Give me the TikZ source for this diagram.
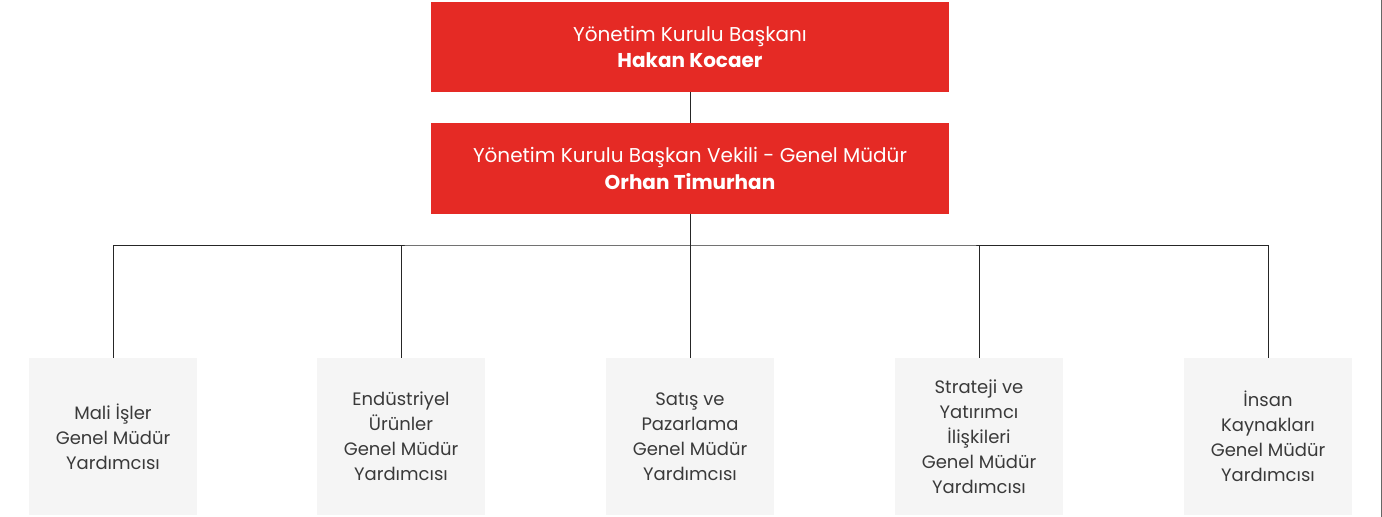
\documentclass[tikz,border=0pt]{standalone}
\usepackage{fontspec}
\setmainfont{Poppins}
\usetikzlibrary{positioning}
\definecolor{boardred}{HTML}{E52A25}
\definecolor{vpgray}{HTML}{F5F5F5}
\definecolor{vptext}{HTML}{3A3A3A}
\definecolor{edgegray}{HTML}{666666}
\tikzset{
  topbox/.style={fill=boardred,text=white,align=center,minimum width=388.5pt,minimum height=67.5pt,inner sep=0pt,font=\fontsize{15}{20}\selectfont},
  vpbox/.style={fill=vpgray,text=vptext,align=center,minimum width=126pt,minimum height=117.75pt,inner sep=0pt,font=\fontsize{13.5}{18.75}\selectfont},
  link/.style={draw=black!85,line width=0.75pt}
}

\begin{document}
\begin{tikzpicture}[x=0.75pt,y=-0.75pt]
\useasboundingbox (0,0) rectangle (1382,517);
\node[topbox] (chair) at (690,47) {Yönetim Kurulu Başkanı\\\textbf{Hakan Kocaer}};
\node[topbox] (ceo) at (690,168.5) {Yönetim Kurulu Başkan Vekili - Genel Müdür\\\textbf{Orhan Timurhan}};
\foreach \n/\x/\t in {a/113/{Mali İşler\\Genel Müdür\\Yardımcısı},
                      b/401/{Endüstriyel\\Ürünler\\Genel Müdür\\Yardımcısı},
                      c/690/{Satış ve\\Pazarlama\\Genel Müdür\\Yardımcısı},
                      d/979/{Strateji ve\\Yatırımcı\\İlişkileri\\Genel Müdür\\Yardımcısı},
                      e/1268/{İnsan\\Kaynakları\\Genel Müdür\\Yardımcısı}}
  \node[vpbox] (vp\n) at (\x,436.5) {\t};
\coordinate (bus) at (690,245);
\draw[link] (chair) -- (ceo);
\draw[link] (ceo) -- (bus);
\draw[link] (vpa.north) |- (bus) -| (vpe.north);
\foreach \n in {b,c,d} \draw[link] (vp\n.north) -- (vp\n.north |- bus);
\draw[edgegray,line width=0.75pt] (1381.5,0) -- (1381.5,517);
\end{tikzpicture}
\end{document}
